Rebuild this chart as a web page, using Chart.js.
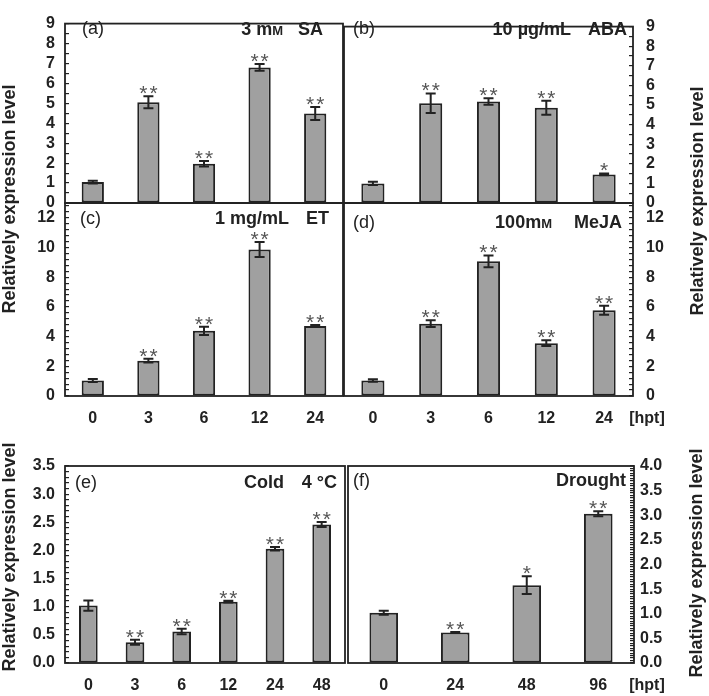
<!DOCTYPE html>
<html>
<head>
<meta charset="utf-8">
<script src="https://cdn.jsdelivr.net/npm/chart.js@4.4.1/dist/chart.umd.min.js"></script>
<style>
body{margin:0;background:#fff;width:709px;height:696px;overflow:hidden;position:relative;font-family:"Liberation Sans",Arial,sans-serif;color:#222}
canvas{position:absolute;left:0;top:0}
.t{position:absolute;white-space:nowrap;line-height:1;font-size:18px}
.b{font-weight:bold}
.sc{font-size:13px}
.ax{position:absolute;white-space:nowrap;font-weight:bold;font-size:18px;line-height:1;transform:translate(-50%,-50%) rotate(-90deg)}
</style>
</head>
<body>
<script>
// time points (hours post treatment)
const hpt5 = ['0', '3', '6', '12', '24'];
const hpt6 = ['0', '3', '6', '12', '24', '48'];
const hpt4 = ['0', '24', '48', '96'];

// (a) SA
const saMean = [1.05, 5.05, 1.97, 6.8, 4.49];
const saErr = [0.07, 0.3, 0.14, 0.17, 0.33];
const saSig = ['', '**', '**', '**', '**'];
// (b) ABA
const abaMean = [1.0, 5.09, 5.18, 4.86, 1.46];
const abaErr = [0.08, 0.5, 0.17, 0.36, 0.05];
const abaSig = ['', '**', '**', '**', '*'];
// (c) ET
const etMean = [1.05, 2.38, 4.39, 9.87, 4.71];
const etErr = [0.1, 0.13, 0.28, 0.5, 0.07];
const etSig = ['', '**', '**', '**', '**'];
// (d) MeJA
const mejaMean = [1.04, 4.87, 9.07, 3.56, 5.78];
const mejaErr = [0.08, 0.23, 0.4, 0.2, 0.3];
const mejaSig = ['', '**', '**', '**', '**'];
// (e) cold
const coldMean = [1.02, 0.37, 0.56, 1.09, 2.03, 2.46];
const coldErr = [0.09, 0.045, 0.05, 0.015, 0.03, 0.045];
const coldSig = ['', '**', '**', '**', '**', '**'];
// (f) drought
const droughtMean = [1.02, 0.62, 1.58, 3.03];
const droughtErr = [0.04, 0.01, 0.18, 0.05];
const droughtSig = ['', '**', '*', '**'];

const W = 709, H = 696;
const XH = 32; // room under the plot for the hour labels
Chart.defaults.font.family = '"Liberation Sans", Arial, sans-serif';
Chart.defaults.color = '#222';

// error bars and significance stars on top of each bar
const errBars = {
    id: 'errBars',
    afterDatasetsDraw(chart) {
        const ctx = chart.ctx;
        const ds = chart.data.datasets[0];
        const meta = chart.getDatasetMeta(0);
        const y = chart.scales.y;
        ctx.save();
        ctx.strokeStyle = '#222';
        ctx.lineWidth = 2;
        ctx.font = '21px "Liberation Sans", Arial, sans-serif';
        ctx.fillStyle = '#555';
        ctx.textAlign = 'center';
        ctx.letterSpacing = '2px';
        const m = ctx.measureText('*');
        const lift = -m.actualBoundingBoxDescent;
        meta.data.forEach((bar, i) => {
            const v = ds.data[i], e = ds.errors[i];
            const top = y.getPixelForValue(v + e);
            const bot = y.getPixelForValue(v - e);
            ctx.beginPath();
            ctx.moveTo(bar.x, top); ctx.lineTo(bar.x, bot);
            ctx.moveTo(bar.x - 5, top); ctx.lineTo(bar.x + 5, top);
            ctx.moveTo(bar.x - 5, bot); ctx.lineTo(bar.x + 5, bot);
            ctx.stroke();
            if (ds.sig[i]) {
                ctx.fillText(ds.sig[i], bar.x + 1, top - 2 + lift);
            }
        });
        ctx.restore();
    }
};

// box round the plot area
const frame = {
    id: 'frame',
    afterDraw(chart) {
        const a = chart.chartArea;
        const ctx = chart.ctx;
        ctx.save();
        ctx.strokeStyle = '#222';
        ctx.lineWidth = 1.8;
        ctx.strokeRect(a.left, a.top, a.right - a.left, a.bottom - a.top);
        ctx.restore();
    }
};

function drawPanel(p) {
    const cv = document.createElement('canvas');
    cv.width = W; cv.height = H;
    cv.style.width = W + 'px'; cv.style.height = H + 'px';
    document.body.appendChild(cv);
    const [L, T, R, B] = p.area;
    const onLeft = p.side === 'left';
    const xh = p.xlabels ? XH : 0;
    const isMajor = v => Math.abs(v / p.major - Math.round(v / p.major)) < 1e-6;

    new Chart(cv.getContext('2d'), {
        type: 'bar',
        data: {
            labels: p.labels,
            datasets: [{
                data: p.mean,
                errors: p.err,
                sig: p.sig,
                backgroundColor: '#a0a0a0',
                borderColor: '#222',
                borderWidth: 2,
                borderSkipped: false,
                barPercentage: 0.4,
                categoryPercentage: 1
            }]
        },
        options: {
            responsive: false,
            animation: false,
            devicePixelRatio: 1,
            events: [],
            layout: {
                padding: {
                    top: T,
                    bottom: H - B - xh,
                    left: onLeft ? 0 : L,
                    right: onLeft ? W - R : 0
                }
            },
            plugins: { legend: { display: false }, tooltip: { enabled: false } },
            scales: {
                x: {
                    grid: { display: false, drawTicks: false },
                    border: { display: false },
                    ticks: {
                        display: p.xlabels,
                        padding: p.xpad || 0,
                        font: { size: 16, weight: 'bold' },
                        color: '#222',
                        maxRotation: 0,
                        autoSkip: false
                    },
                    afterFit: s => { s.height = xh; }
                },
                y: {
                    position: p.side,
                    min: 0,
                    max: p.max,
                    grid: { drawOnChartArea: false, tickLength: -4, color: '#222', lineWidth: 1.2 },
                    border: { display: false },
                    ticks: {
                        stepSize: p.step,
                        autoSkip: false,
                        includeBounds: false,
                        maxTicksLimit: 1000,
                        padding: p.ypad,
                        font: { size: 16, weight: 'bold' },
                        color: '#222',
                        callback: v => isMajor(v) ? v.toFixed(p.dec) : ''
                    },
                    afterFit: s => { s.width = onLeft ? L : W - R; }
                }
            }
        },
        plugins: [errBars, frame]
    });
}

drawPanel({ area: [65, 8, 343, 203], side: 'left', labels: hpt5, mean: saMean, err: saErr, sig: saSig,
    max: 9, step: 0.5, major: 1, dec: 0, ypad: 14, xlabels: false });
drawPanel({ area: [344, 8, 633, 203], side: 'right', labels: hpt5, mean: abaMean, err: abaErr, sig: abaSig,
    max: 9, step: 0.5, major: 1, dec: 0, ypad: 17, xlabels: false });
drawPanel({ area: [65, 203, 343, 396], side: 'left', labels: hpt5, mean: etMean, err: etErr, sig: etSig,
    max: 13, step: 0.4, major: 2, dec: 0, ypad: 14, xlabels: true, xpad: 13 });
drawPanel({ area: [344, 203, 633, 396], side: 'right', labels: hpt5, mean: mejaMean, err: mejaErr, sig: mejaSig,
    max: 13, step: 0.4, major: 2, dec: 0, ypad: 17, xlabels: true, xpad: 13 });
drawPanel({ area: [65, 466, 345, 663], side: 'left', labels: hpt6, mean: coldMean, err: coldErr, sig: coldSig,
    max: 3.5, step: 0.1, major: 0.5, dec: 1, ypad: 14, xlabels: true, xpad: 13 });
drawPanel({ area: [348, 466, 634, 663], side: 'right', labels: hpt4, mean: droughtMean, err: droughtErr, sig: droughtSig,
    max: 4, step: 0.05, major: 0.5, dec: 1, ypad: 10, xlabels: true, xpad: 13 });

// panel captions, axis titles and units
function put(html, x, y, align, bold, size) {
    const d = document.createElement('div');
    d.className = 't' + (bold ? ' b' : '');
    d.innerHTML = html;
    d.style.left = x + 'px';
    d.style.top = y + 'px';
    if (size) d.style.fontSize = size + 'px';
    const tx = align === 'r' ? '-100%' : align === 'c' ? '-50%' : '0';
    d.style.transform = 'translate(' + tx + ',-50%)';
    document.body.appendChild(d);
}
function axisTitle(text, x, y) {
    const d = document.createElement('div');
    d.className = 'ax';
    d.textContent = text;
    d.style.left = x + 'px';
    d.style.top = y + 'px';
    document.body.appendChild(d);
}

put('(a)', 82, 28, 'l');
put('3 m<span class="sc">M</span>', 283, 29, 'r', true);
put('SA', 323, 29, 'r', true);
put('(b)', 353, 28, 'l');
put('10 µg/mL', 571, 29, 'r', true);
put('ABA', 627, 29, 'r', true);
put('(c)', 80, 218, 'l');
put('1 mg/mL', 289, 218, 'r', true);
put('ET', 329, 218, 'r', true);
put('(d)', 353, 222, 'l');
put('100m<span class="sc">M</span>', 552, 222, 'r', true);
put('MeJA', 622, 222, 'r', true);
put('(e)', 75, 482, 'l');
put('Cold', 284, 482, 'r', true);
put('4 °C', 337, 482, 'r', true);
put('(f)', 353, 480, 'l');
put('Drought', 626, 480, 'r', true);
put('[hpt]', 647, 418, 'c', true, 16);
put('[hpt]', 647, 685, 'c', true, 16);

axisTitle('Relatively expression level', 9, 199);
axisTitle('Relatively expression level', 697, 201);
axisTitle('Relatively expression level', 9, 557);
axisTitle('Relatively expression level', 696, 563);
</script>
</body>
</html>
